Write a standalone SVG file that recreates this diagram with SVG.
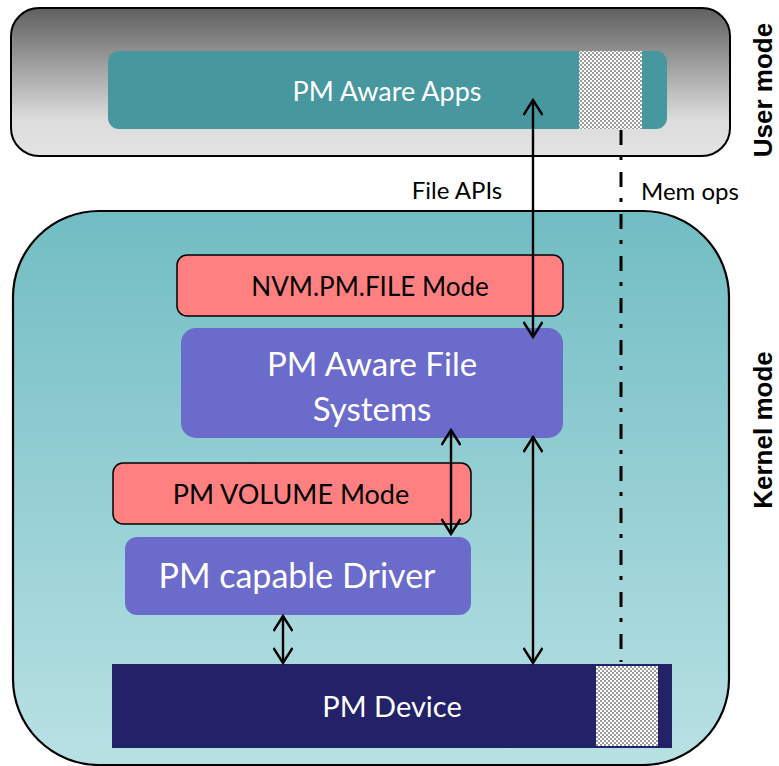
<svg xmlns="http://www.w3.org/2000/svg" width="779" height="766" viewBox="0 0 779 766">
<defs>
<linearGradient id="gUser" x1="0" y1="0" x2="0" y2="1">
<stop offset="0" stop-color="#5f5f5f"/>
<stop offset="0.75" stop-color="#dcdcdc"/>
<stop offset="1" stop-color="#e3e3e3"/>
</linearGradient>
<linearGradient id="gKernel" x1="0" y1="0" x2="0" y2="1">
<stop offset="0" stop-color="#71bdc3"/>
<stop offset="1" stop-color="#b9e1e4"/>
</linearGradient>
<pattern id="checker" width="4" height="4" patternUnits="userSpaceOnUse">
<rect width="4" height="4" fill="#ffffff"/>
<rect width="2" height="2" fill="#9c9c9c"/>
<rect x="2" y="2" width="2" height="2" fill="#9c9c9c"/>
</pattern>
<marker id="ah" viewBox="0 0 20 20" refX="18" refY="10" markerWidth="20" markerHeight="20" markerUnits="userSpaceOnUse" orient="auto-start-reverse">
<path d="M3,0.5 L18,10 L3,19.5" fill="none" stroke="#000" stroke-width="2.4"/>
</marker>
</defs>
<style>
.lbl{font-family:Lato,"Open Sans","Liberation Sans",sans-serif;text-anchor:middle}
.w{fill:#ffffff}
.k{fill:#000000}
.mode{font-family:"Liberation Sans",Arial,sans-serif;font-weight:bold;font-size:26px;text-anchor:middle;fill:#000}
.pink{fill:#ff8080;stroke:#000;stroke-width:1.5}
.blue{fill:#6b6bcc}
.arr{stroke:#000;stroke-width:2.4;fill:none;marker-start:url(#ah);marker-end:url(#ah)}
</style>
<g id="user-mode">
<rect x="11" y="8" width="719" height="148" rx="28" ry="28" fill="url(#gUser)" stroke="#000" stroke-width="2"/>
<text class="mode" transform="translate(772,90) rotate(-90)">User mode</text>
</g>
<g id="pm-aware-apps">
<rect x="108" y="51" width="559" height="78" rx="11" ry="11" fill="#47979f"/>
<rect x="579" y="51" width="63" height="78" fill="url(#checker)"/>
<text class="lbl w" x="387" y="101" font-size="27">PM Aware Apps</text>
</g>
<g id="kernel-mode">
<rect x="13" y="211" width="716" height="554" rx="86" ry="86" fill="url(#gKernel)" stroke="#000" stroke-width="2.2"/>
<text class="mode" transform="translate(772,430) rotate(-90)">Kernel mode</text>
</g>
<g id="nvm-pm-file-mode">
<rect class="pink" x="177" y="255" width="386" height="61" rx="10" ry="10"/>
<text class="lbl k" x="370" y="296" font-size="26">NVM.PM.FILE Mode</text>
</g>
<g id="pm-aware-file-systems">
<rect class="blue" x="181" y="328" width="382" height="110" rx="15" ry="15"/>
<text class="lbl w" x="372" y="376" font-size="33">PM Aware File</text>
<text class="lbl w" x="372" y="421" font-size="33">Systems</text>
</g>
<g id="pm-volume-mode">
<rect class="pink" x="113" y="463" width="358" height="61" rx="10" ry="10"/>
<text class="lbl k" x="291" y="504" font-size="27">PM VOLUME Mode</text>
</g>
<g id="pm-capable-driver">
<rect class="blue" x="125" y="537" width="346" height="78" rx="12" ry="12"/>
<text class="lbl w" x="297" y="588" font-size="34">PM capable Driver</text>
</g>
<g id="pm-device">
<rect x="112" y="664" width="560" height="84" fill="#232268"/>
<rect x="596" y="666" width="62" height="80" fill="url(#checker)"/>
<text class="lbl w" x="392" y="717" font-size="29">PM Device</text>
</g>
<g id="connectors">
<line class="arr" x1="533" y1="100" x2="533" y2="337"/>
<line class="arr" x1="533" y1="437" x2="533" y2="663"/>
<line class="arr" x1="451" y1="430" x2="451" y2="534"/>
<line class="arr" x1="283" y1="616" x2="283" y2="663"/>
<line x1="621" y1="130" x2="621" y2="662" stroke="#000" stroke-width="3" stroke-dasharray="15 11 4 12"/>
<text class="lbl k" x="457" y="199" font-size="24">File APIs</text>
<text class="lbl k" x="690" y="200" font-size="24">Mem ops</text>
</g>
</svg>
